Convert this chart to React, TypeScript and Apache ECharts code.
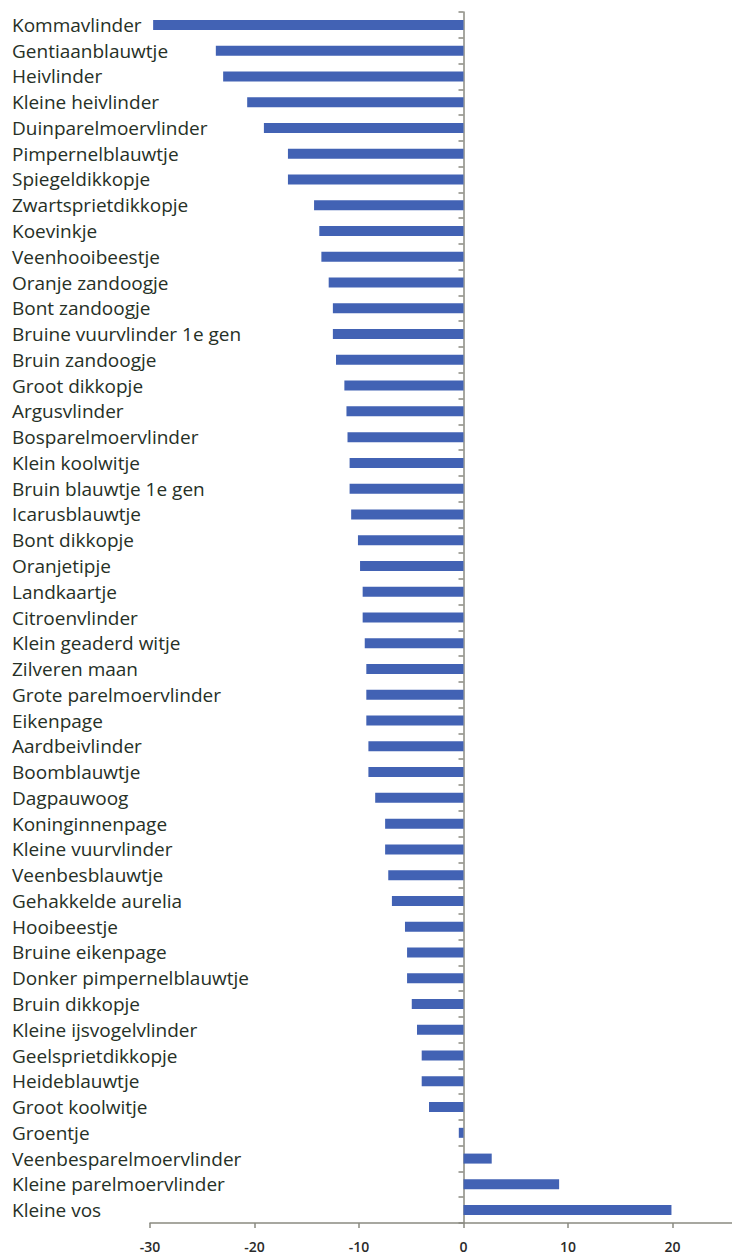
import React, { useEffect, useRef } from "react";
import * as echarts from "echarts";

const categories: string[] = [
  "Kommavlinder",
  "Gentiaanblauwtje",
  "Heivlinder",
  "Kleine heivlinder",
  "Duinparelmoervlinder",
  "Pimpernelblauwtje",
  "Spiegeldikkopje",
  "Zwartsprietdikkopje",
  "Koevinkje",
  "Veenhooibeestje",
  "Oranje zandoogje",
  "Bont zandoogje",
  "Bruine vuurvlinder 1e gen",
  "Bruin zandoogje",
  "Groot dikkopje",
  "Argusvlinder",
  "Bosparelmoervlinder",
  "Klein koolwitje",
  "Bruin blauwtje 1e gen",
  "Icarusblauwtje",
  "Bont dikkopje",
  "Oranjetipje",
  "Landkaartje",
  "Citroenvlinder",
  "Klein geaderd witje",
  "Zilveren maan",
  "Grote parelmoervlinder",
  "Eikenpage",
  "Aardbeivlinder",
  "Boomblauwtje",
  "Dagpauwoog",
  "Koninginnenpage",
  "Kleine vuurvlinder",
  "Veenbesblauwtje",
  "Gehakkelde aurelia",
  "Hooibeestje",
  "Bruine eikenpage",
  "Donker pimpernelblauwtje",
  "Bruin dikkopje",
  "Kleine ijsvogelvlinder",
  "Geelsprietdikkopje",
  "Heideblauwtje",
  "Groot koolwitje",
  "Groentje",
  "Veenbesparelmoervlinder",
  "Kleine parelmoervlinder",
  "Kleine vos",
];

const values: number[] = [
  -29.7, -23.7, -23.0, -20.7, -19.1, -16.8, -16.8, -14.3, -13.8, -13.6,
  -12.9, -12.5, -12.5, -12.2, -11.4, -11.2, -11.1, -10.9, -10.9, -10.75,
  -10.1, -9.9, -9.65, -9.65, -9.45, -9.3, -9.3, -9.3, -9.1, -9.1,
  -8.45, -7.5, -7.5, -7.2, -6.85, -5.6, -5.4, -5.4, -4.95, -4.45,
  -4.0, -4.0, -3.3, -0.45, 2.7, 9.15, 19.9,
];

const xMin = -30;
const xMax = 30;
const xInterval = 10;
const lastVisibleTick = 20;

export default function App() {
  const ref = useRef<HTMLDivElement>(null);

  useEffect(() => {
    if (!ref.current) return;
    const chart = echarts.init(ref.current, undefined, { renderer: "svg" });
    const axisColor = "#8a8a80";
    chart.setOption({
      animation: false,
      backgroundColor: "#ffffff",
      grid: {
        left: 150,
        right: -45,
        top: 12,
        bottom: 33,
        containLabel: false,
        outerBoundsMode: "none",
      },
      xAxis: {
        type: "value",
        min: xMin,
        max: xMax,
        interval: xInterval,
        splitLine: { show: false },
        axisLine: { show: true, lineStyle: { color: axisColor, width: 1.5 } },
        axisTick: { show: true, length: 5, lineStyle: { color: axisColor, width: 1.5 } },
        axisLabel: {
          margin: 16,
          fontFamily: "Open Sans",
          fontSize: 14,
          fontWeight: 600,
          color: "#2b2b2b",
          formatter: (v: number) => (v > lastVisibleTick ? "" : String(v)),
        },
      },
      yAxis: {
        type: "category",
        data: categories,
        inverse: true,
        axisLine: { show: true, onZero: true, lineStyle: { color: axisColor, width: 1.5 } },
        axisTick: { show: true, length: 5, lineStyle: { color: axisColor, width: 1.5 } },
        axisLabel: {
          align: "left",
          margin: 138,
          fontFamily: "Open Sans",
          fontSize: 19,
          color: "#263026",
        },
      },
      series: [
        {
          type: "bar",
          data: values,
          barWidth: 10,
          itemStyle: { color: "#4262b4" },
        },
      ],
    });
    return () => chart.dispose();
  }, []);

  return (
    <div
      ref={ref}
      style={{ position: "absolute", left: 0, top: 0, width: 732, height: 1256 }}
    />
  );
}
